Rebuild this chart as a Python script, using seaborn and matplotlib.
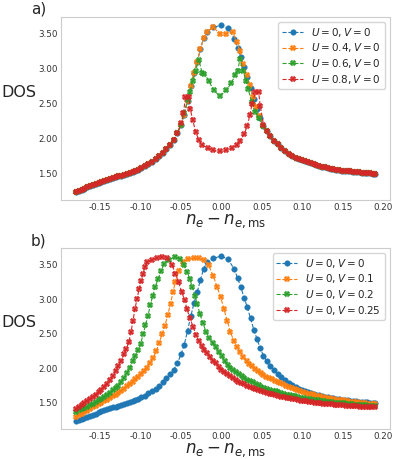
import matplotlib
matplotlib.use("Agg")
import matplotlib.pyplot as plt
import seaborn as sns
import pandas as pd

# ---- U=0, V=0 (same curve in both panels) ----
x_u0 = [-0.1800, -0.1765, -0.1730, -0.1695, -0.1660, -0.1625, -0.1590, -0.1555, -0.1520, -0.1485,
        -0.1450, -0.1415, -0.1380, -0.1345, -0.1310, -0.1275, -0.1240, -0.1205, -0.1170, -0.1135,
        -0.1100, -0.1065, -0.1030, -0.0995,
        -0.0950, -0.0905, -0.0860, -0.0815, -0.0770, -0.0725, -0.0680, -0.0635, -0.0590, -0.0545,
        -0.0500, -0.0460, -0.0420, -0.0380, -0.0340, -0.0300, -0.0260, -0.0220,
        -0.0180, -0.0100, -0.0010, 0.0080, 0.0160, 0.0200, 0.0240, 0.0280, 0.0320, 0.0360,
        0.0400, 0.0440, 0.0480, 0.0520,
        0.0560, 0.0605, 0.0650, 0.0695, 0.0740, 0.0785, 0.0830, 0.0875, 0.0920, 0.0965,
        0.1000, 0.1035, 0.1070, 0.1105, 0.1140, 0.1175, 0.1210, 0.1245, 0.1280, 0.1315,
        0.1350, 0.1385, 0.1420, 0.1455, 0.1490, 0.1525, 0.1560, 0.1595, 0.1630, 0.1665,
        0.1700, 0.1735, 0.1770, 0.1805, 0.1840, 0.1875, 0.1900]
dos_u0 = [1.240, 1.255, 1.270, 1.285, 1.300, 1.315, 1.330, 1.345, 1.360, 1.375,
          1.390, 1.404, 1.418, 1.432, 1.446, 1.458, 1.468, 1.478, 1.492, 1.506,
          1.520, 1.537, 1.557, 1.578,
          1.605, 1.636, 1.668, 1.706, 1.750, 1.800, 1.854, 1.910, 1.980, 2.074,
          2.200, 2.340, 2.540, 2.750, 2.940, 3.100, 3.280, 3.440,
          3.530, 3.590, 3.620, 3.580, 3.430, 3.300, 3.170, 3.020, 2.880, 2.720,
          2.560, 2.420, 2.290, 2.180,
          2.105, 2.035, 1.970, 1.915, 1.870, 1.825, 1.785, 1.755, 1.728, 1.705,
          1.690, 1.676, 1.662, 1.648, 1.634, 1.620, 1.608, 1.600, 1.588, 1.577,
          1.570, 1.563, 1.556, 1.549, 1.542, 1.537, 1.534, 1.530, 1.524, 1.519,
          1.515, 1.511, 1.508, 1.505, 1.502, 1.500, 1.500]

# ---- panel a: finite U, only the central part differs from U=0 ----
cut_left, cut_right = 34, 56   # U=0 points kept: x <= -0.0545 and x >= 0.056
x_u04_mid = [-0.050, -0.046, -0.042, -0.038, -0.034, -0.030, -0.026, -0.022, -0.018, -0.010,
             -0.002, 0.006, 0.014, 0.019, 0.023, 0.027, 0.031, 0.035, 0.039, 0.043, 0.047, 0.052]
dos_u04_mid = [2.20, 2.34, 2.54, 2.75, 2.94, 3.10, 3.28, 3.44, 3.53, 3.59,
               3.50, 3.50, 3.52, 3.38, 3.25, 3.06, 2.91, 2.76, 2.60, 2.45, 2.32, 2.18]
x_u06_mid = [-0.050, -0.046, -0.042, -0.039, -0.0355, -0.032, -0.028, -0.024, -0.021, -0.0155,
             -0.0096, -0.002, 0.006, 0.012, 0.017, 0.020, 0.023, 0.027, 0.030, 0.033,
             0.0375, 0.0416, 0.046, 0.052]
dos_u06_mid = [2.20, 2.36, 2.55, 2.67, 2.82, 2.97, 3.13, 2.94, 2.93, 2.82,
               2.69, 2.61, 2.69, 2.79, 2.91, 2.97, 3.14, 2.97, 2.83, 2.71,
               2.52, 2.38, 2.30, 2.18]
x_u08_mid = [-0.050, -0.047, -0.0445, -0.0405, -0.0385, -0.0355, -0.032, -0.028, -0.024, -0.017,
             -0.010, -0.002, 0.006, 0.0125, 0.019, 0.023, 0.028, 0.032, 0.035, 0.038,
             0.042, 0.046, 0.048, 0.052]
dos_u08_mid = [2.22, 2.36, 2.60, 2.60, 2.42, 2.26, 2.10, 1.98, 1.91, 1.86,
               1.83, 1.815, 1.83, 1.86, 1.91, 1.97, 2.06, 2.18, 2.33, 2.50,
               2.66, 2.66, 2.47, 2.20]

# ---- panel b: finite V ----
x_v01 = [-0.1800, -0.1765, -0.1730, -0.1695, -0.1660, -0.1625, -0.1590, -0.1555, -0.1520, -0.1485,
         -0.1450, -0.1415, -0.1380, -0.1345, -0.1310, -0.1275, -0.1240, -0.1205, -0.1170, -0.1135,
         -0.1100, -0.1065, -0.1030, -0.0995, -0.0960, -0.0925,
         -0.0885, -0.0845, -0.0805, -0.0770, -0.0735, -0.0700, -0.0665, -0.0630, -0.0600, -0.0570,
         -0.0530, -0.0480,
         -0.0410, -0.0345, -0.0280, -0.0220, -0.0160, -0.0100, -0.0055, -0.0010, 0.0030, 0.0070,
         0.0110, 0.0150, 0.0190, 0.0230, 0.0270, 0.0310,
         0.0345, 0.0380, 0.0415, 0.0450, 0.0485, 0.0520, 0.0555, 0.0590, 0.0625, 0.0660,
         0.0695, 0.0730, 0.0765, 0.0800, 0.0835, 0.0870, 0.0905, 0.0940, 0.0975, 0.1010,
         0.1045, 0.1080, 0.1115, 0.1150, 0.1185, 0.1220, 0.1255, 0.1290, 0.1325, 0.1360,
         0.1395, 0.1430, 0.1465, 0.1500, 0.1535, 0.1570, 0.1605, 0.1640, 0.1675, 0.1710,
         0.1745, 0.1780, 0.1815, 0.1850, 0.1885, 0.1900]
dos_v01 = [1.300, 1.322, 1.344, 1.366, 1.388, 1.410, 1.432, 1.454, 1.478, 1.500,
           1.523, 1.546, 1.570, 1.595, 1.620, 1.646, 1.674, 1.704, 1.736, 1.770,
           1.804, 1.840, 1.878, 1.918, 1.960, 2.010,
           2.080, 2.150, 2.250, 2.370, 2.490, 2.610, 2.770, 2.930, 3.100, 3.250,
           3.400, 3.540,
           3.580, 3.590, 3.590, 3.560, 3.490, 3.330, 3.180, 3.030, 2.860, 2.690,
           2.530, 2.400, 2.300, 2.230, 2.160, 2.100,
           2.060, 2.030, 1.995, 1.960, 1.925, 1.900, 1.875, 1.855, 1.840, 1.820,
           1.800, 1.780, 1.765, 1.745, 1.725, 1.710, 1.695, 1.680, 1.665, 1.655,
           1.643, 1.632, 1.621, 1.610, 1.600, 1.592, 1.584, 1.576, 1.568, 1.560,
           1.553, 1.547, 1.541, 1.535, 1.530, 1.524, 1.518, 1.512, 1.506, 1.501,
           1.496, 1.491, 1.487, 1.483, 1.479, 1.477]

x_v02 = [-0.1800, -0.1765, -0.1730, -0.1695, -0.1660, -0.1625, -0.1590, -0.1555, -0.1520, -0.1485,
         -0.1450, -0.1415, -0.1380, -0.1345, -0.1310, -0.1275, -0.1240, -0.1205, -0.1170, -0.1135,
         -0.1100, -0.1065, -0.1030,
         -0.1000, -0.0970, -0.0940, -0.0910, -0.0880, -0.0850, -0.0820, -0.0785, -0.0745, -0.0710,
         -0.0650, -0.0580, -0.0510,
         -0.0465, -0.0425, -0.0390, -0.0360, -0.0330, -0.0300, -0.0265, -0.0230, -0.0190, -0.0150,
         -0.0110, -0.0070, -0.0030,
         0.0005, 0.0040, 0.0075, 0.0110, 0.0145, 0.0180, 0.0215, 0.0250, 0.0285, 0.0320,
         0.0355, 0.0390, 0.0425, 0.0460, 0.0495, 0.0530, 0.0565, 0.0600, 0.0635, 0.0670,
         0.0705, 0.0740, 0.0775, 0.0810, 0.0845, 0.0880, 0.0915, 0.0950, 0.0985, 0.1020,
         0.1055, 0.1090, 0.1125, 0.1160, 0.1195, 0.1230, 0.1265, 0.1300, 0.1335, 0.1370,
         0.1405, 0.1440, 0.1475, 0.1510, 0.1545, 0.1580, 0.1615, 0.1650, 0.1685, 0.1720,
         0.1755, 0.1790, 0.1825, 0.1860, 0.1900]
dos_v02 = [1.370, 1.389, 1.408, 1.427, 1.446, 1.465, 1.487, 1.511, 1.536, 1.562,
           1.590, 1.619, 1.648, 1.678, 1.710, 1.750, 1.800, 1.860, 1.930, 2.010,
           2.100, 2.180, 2.260,
           2.350, 2.490, 2.620, 2.760, 2.910, 3.050, 3.170, 3.290, 3.410, 3.510,
           3.570, 3.610, 3.580,
           3.490, 3.390, 3.290, 3.170, 3.050, 2.930, 2.780, 2.650, 2.530, 2.440,
           2.370, 2.300, 2.230,
           2.170, 2.100, 2.040, 2.000, 1.970, 1.940, 1.910, 1.885, 1.860, 1.835,
           1.815, 1.795, 1.775, 1.755, 1.735, 1.720, 1.705, 1.690, 1.677, 1.665,
           1.652, 1.640, 1.630, 1.620, 1.610, 1.600, 1.592, 1.584, 1.576, 1.568,
           1.560, 1.553, 1.546, 1.540, 1.534, 1.528, 1.523, 1.518, 1.513, 1.508,
           1.503, 1.499, 1.495, 1.491, 1.487, 1.483, 1.479, 1.475, 1.472, 1.469,
           1.466, 1.463, 1.460, 1.457, 1.455]

x_v025 = [-0.1800, -0.1765, -0.1730, -0.1695, -0.1660, -0.1625, -0.1590, -0.1555, -0.1520, -0.1485,
          -0.1450, -0.1415, -0.1380, -0.1345, -0.1310, -0.1275, -0.1240, -0.1205,
          -0.1175, -0.1145, -0.1120, -0.1095, -0.1070, -0.1045, -0.1020, -0.0995, -0.0970, -0.0945,
          -0.0915,
          -0.0860, -0.0800, -0.0730, -0.0670,
          -0.0610, -0.0570, -0.0530, -0.0490, -0.0455, -0.0425, -0.0390, -0.0350, -0.0315, -0.0280,
          -0.0245,
          -0.0210, -0.0175, -0.0140, -0.0105, -0.0070, -0.0035, 0.0000, 0.0035, 0.0070, 0.0105,
          0.0140, 0.0175, 0.0210, 0.0245, 0.0280, 0.0315, 0.0350, 0.0385, 0.0420, 0.0455,
          0.0490, 0.0525, 0.0560, 0.0595, 0.0630, 0.0665, 0.0700, 0.0735, 0.0770, 0.0805,
          0.0840, 0.0875, 0.0910, 0.0945, 0.0980, 0.1015, 0.1050, 0.1085, 0.1120, 0.1155,
          0.1190, 0.1225, 0.1260, 0.1295, 0.1330, 0.1365, 0.1400, 0.1435, 0.1470, 0.1505,
          0.1540, 0.1575, 0.1610, 0.1645, 0.1680, 0.1715, 0.1750, 0.1785, 0.1820, 0.1855, 0.1900]
dos_v025 = [1.410, 1.440, 1.470, 1.500, 1.530, 1.560, 1.590, 1.620, 1.652, 1.688,
            1.730, 1.778, 1.830, 1.892, 1.960, 2.030, 2.110, 2.200,
            2.280, 2.380, 2.520, 2.680, 2.860, 3.000, 3.140, 3.260, 3.370, 3.470,
            3.530,
            3.570, 3.590, 3.615, 3.600,
            3.490, 3.370, 3.240, 3.100, 2.980, 2.850, 2.720, 2.600, 2.480, 2.390,
            2.320,
            2.270, 2.220, 2.160, 2.110, 2.070, 2.020, 1.980, 1.950, 1.920, 1.890,
            1.860, 1.830, 1.805, 1.785, 1.765, 1.745, 1.725, 1.710, 1.695, 1.680,
            1.667, 1.655, 1.643, 1.632, 1.621, 1.611, 1.601, 1.591, 1.582, 1.573,
            1.565, 1.557, 1.549, 1.541, 1.533, 1.526, 1.519, 1.512, 1.506, 1.500,
            1.496, 1.492, 1.488, 1.484, 1.480, 1.476, 1.472, 1.469, 1.466, 1.463,
            1.460, 1.457, 1.454, 1.451, 1.448, 1.445, 1.442, 1.440, 1.438, 1.436, 1.435]

labels_a = ["$U=0, V=0$", "$U=0.4, V=0$", "$U=0.6, V=0$", "$U=0.8, V=0$"]
labels_b = ["$U=0, V=0$", "$U=0, V=0.1$", "$U=0, V=0.2$", "$U=0, V=0.25$"]


def with_mid(mid_x, mid_y):
    xs = x_u0[:cut_left] + mid_x + x_u0[cut_right:]
    ys = dos_u0[:cut_left] + mid_y + dos_u0[cut_right:]
    return xs, ys


sns.set_theme(style="whitegrid")
plt.rcParams['font.family'] = ['DejaVu Sans']
plt.rcParams['mathtext.fontset'] = 'dejavusans'
colors = sns.color_palette("tab10")
markers = ['o', 'X', 'X', 'X']

fig = plt.figure(figsize=(3.95, 4.59), dpi=100)
ax_a = fig.add_axes([61 / 395, (459 - 200) / 459, 329 / 395, 183 / 459])
ax_b = fig.add_axes([61 / 395, (459 - 429) / 459, 329 / 395, 181 / 459])

series_a = [(x_u0, dos_u0), with_mid(x_u04_mid, dos_u04_mid),
            with_mid(x_u06_mid, dos_u06_mid), with_mid(x_u08_mid, dos_u08_mid)]
series_b = [(x_u0, dos_u0), (x_v01, dos_v01), (x_v02, dos_v02), (x_v025, dos_v025)]

for ax, series, labels in [(ax_a, series_a, labels_a), (ax_b, series_b, labels_b)]:
    for i in range(4):
        df = pd.DataFrame({'x': series[i][0], 'dos': series[i][1]})
        sns.lineplot(data=df, x='x', y='dos', ax=ax, color=colors[i], marker=markers[i],
                     markersize=4.0, markeredgecolor=colors[i], markeredgewidth=0.3,
                     linestyle='--', linewidth=0.8, label=labels[i], sort=False)
    ax.grid(False)
    for sp in ax.spines.values():
        sp.set_color('#cccccc')
        sp.set_linewidth(0.8)
    ax.set_xticks([-0.15, -0.10, -0.05, 0.00, 0.05, 0.10, 0.15, 0.20])
    ax.set_yticks([1.5, 2.0, 2.5, 3.0, 3.5])
    ax.xaxis.set_major_formatter(matplotlib.ticker.FormatStrFormatter('%.2f'))
    ax.yaxis.set_major_formatter(matplotlib.ticker.FormatStrFormatter('%.2f'))
    ax.tick_params(axis='both', labelsize=6.3, length=0, pad=2.5, labelcolor='#333333')
    ax.set_xlabel(r"$n_e - n_{e,\mathrm{ms}}$", fontsize=12, labelpad=0)
    ax.set_ylabel("DOS", fontsize=11.5, rotation=0)
    ax.yaxis.set_label_coords(-0.128, 0.545)
    ax.legend(loc='upper right', fontsize=7.5, frameon=True, labelspacing=0.25,
              borderpad=0.35, handletextpad=0.8)

fig.text(31 / 395, 1 - 2 / 459, "a)", fontsize=11, va='top', ha='left')
fig.text(31 / 395, 1 - 233 / 459, "b)", fontsize=11, va='top', ha='left')

fig.savefig("out.png", dpi=100)
